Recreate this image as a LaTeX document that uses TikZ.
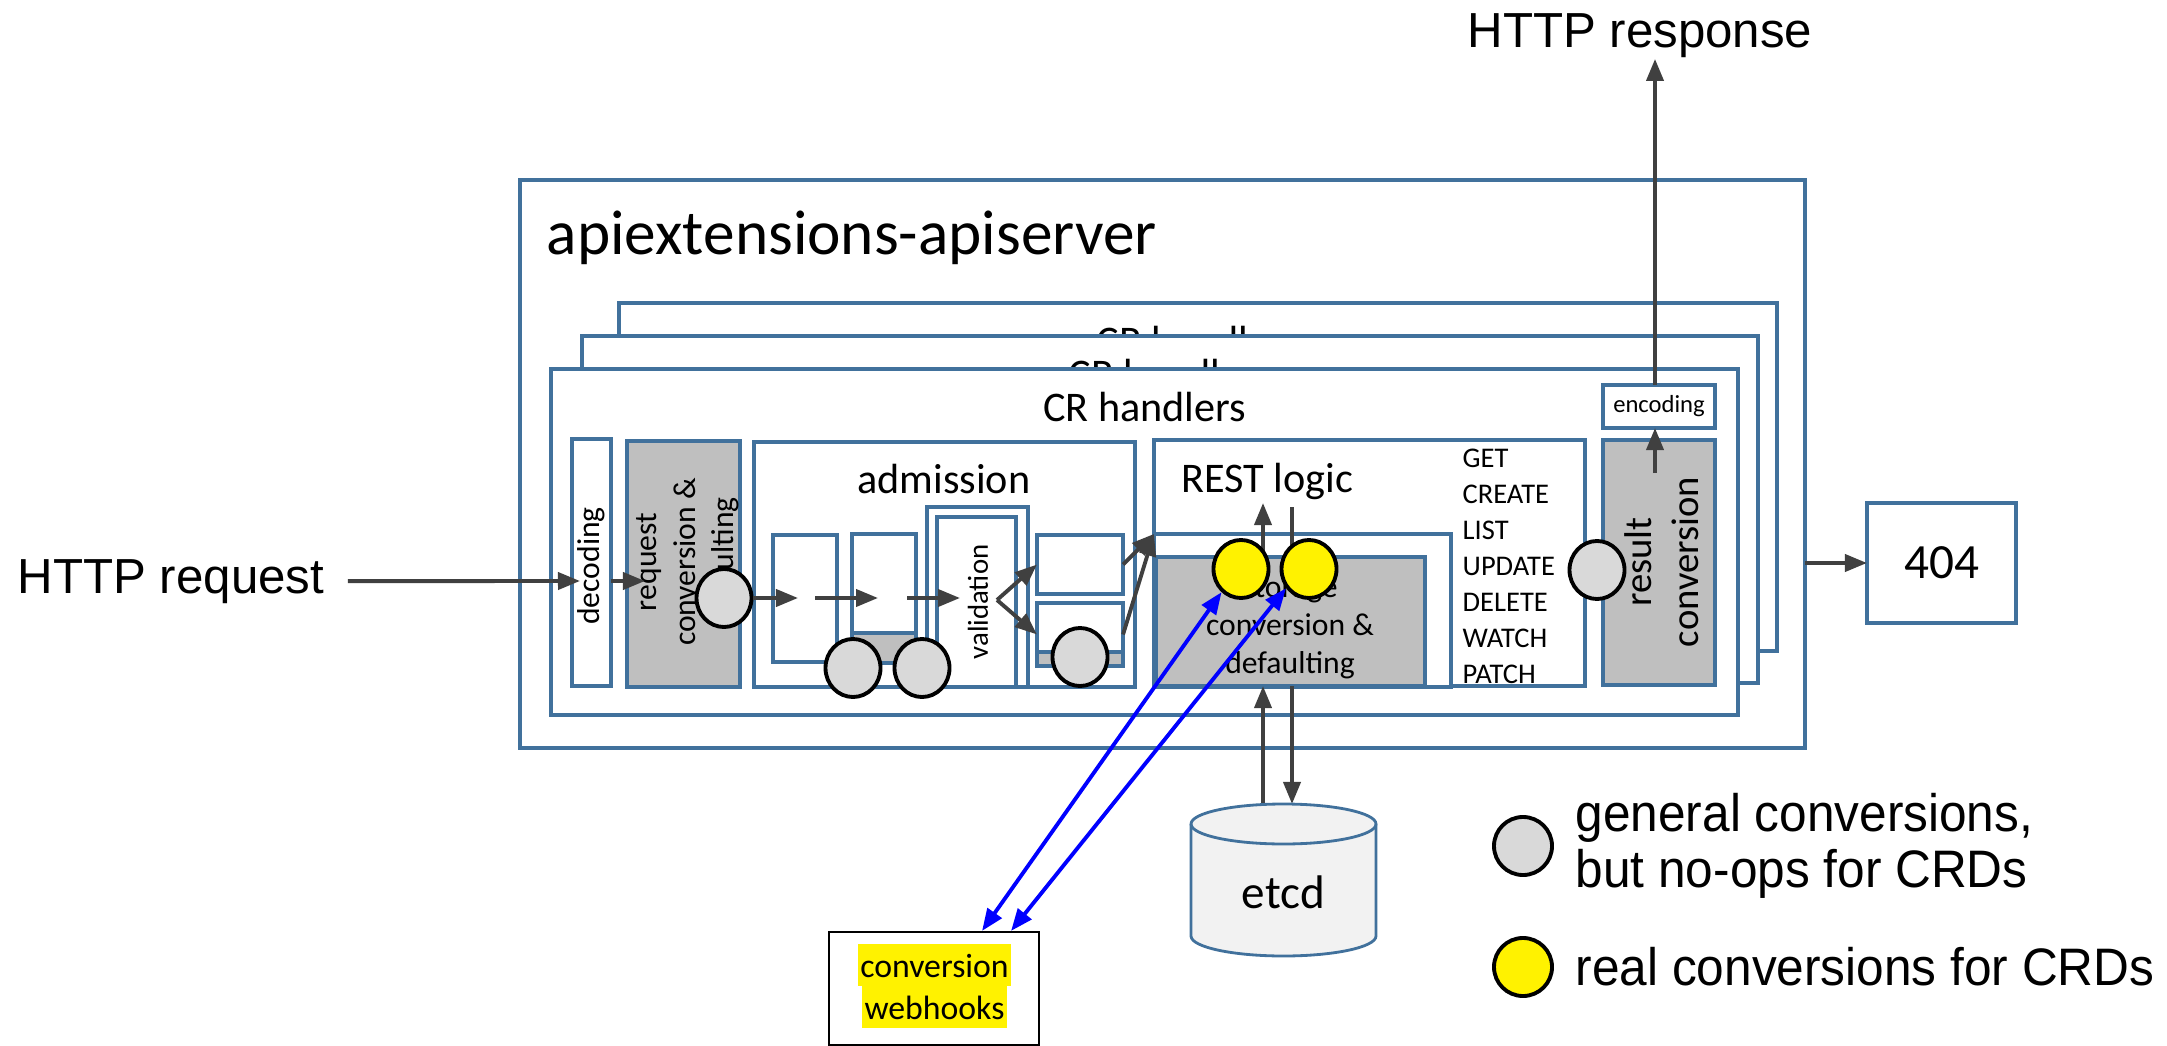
\documentclass[tikz,border=0pt]{standalone}
\usepackage{fontspec}
\setmainfont{Carlito}
\newfontfamily\arialfont{Liberation Sans}
\newfontfamily\legendfont[FakeStretch=0.94]{Liberation Sans}
\usetikzlibrary{positioning, calc, shapes.geometric, arrows.meta}
\definecolor{frameblue}{RGB}{65,113,156}
\definecolor{boxgray}{RGB}{191,191,191}
\definecolor{convgray}{RGB}{217,217,217}
\definecolor{arrowgray}{RGB}{64,64,64}
\definecolor{etcdfill}{RGB}{242,242,242}

\begin{document}
\begin{tikzpicture}[
        x=0.01cm, y=-0.01cm,
        blk/.style={rectangle, draw=frameblue, line width=1pt, fill=white, inner sep=0pt, outer sep=0pt},
        grayblk/.style={blk, fill=boxgray},
        frame/.style={blk, line width=1.1pt},
        band/.style={path picture={
            \fill[boxgray] (path picture bounding box.south west) rectangle ([yshift=#1]path picture bounding box.south east);
            \draw[frameblue, line width=1pt] ([yshift=#1]path picture bounding box.south west) -- ([yshift=#1]path picture bounding box.south east);}},
        cnv/.style={ellipse, draw=black, line width=1.1pt, fill=convgray, minimum width=0.55cm, minimum height=0.58cm, inner sep=0pt},
        realcnv/.style={cnv, fill=yellow},
        arr/.style={-{Triangle[length=0.22cm, width=0.17cm]}, line width=1.1pt, draw=arrowgray},
        plainln/.style={line width=1.1pt, draw=arrowgray},
        bluearr/.style={{Triangle[length=0.22cm, width=0.17cm]}-{Triangle[length=0.22cm, width=0.17cm]}, line width=1.1pt, draw=blue},
        vlbl/.style={rotate=90, align=center, inner sep=0pt},
        crtext/.style={font=\fontsize{12}{14}\selectfont, inner sep=0pt},
        meth/.style={font=\fontsize{8.1}{9.7}\selectfont, inner sep=0pt, anchor=base west},
        http/.style={font=\arialfont\fontsize{14}{16.8}\selectfont, inner sep=0pt},
        hilite/.style={fill=yellow, inner xsep=0.7pt, inner ysep=0pt, minimum height=0.42cm, text height=8pt, text depth=1pt, font=\fontsize{9.6}{11.5}\selectfont},
        lgtext/.style={font=\legendfont\fontsize{15}{15.9}\selectfont, align=left, inner sep=0pt},
    ]
    \useasboundingbox (0,0) rectangle (2167,1046);

    % ===== apiextensions-apiserver =====
    \node[frame, minimum width=12.85cm, minimum height=5.68cm] (APISRV) at (1162.5,464) {};
    \node[font=\fontsize{18}{21.6}\selectfont, inner sep=0pt, anchor=base west] (TITLE) at (546,255) {apiextensions-apiserver};

    % ===== stacked CR handlers =====
    \foreach \f/\x/\y/\w/\h in {3/1198/477/11.58/3.48, 2/1170/509.5/11.76/3.47, 1/1144.5/542/11.87/3.46} {
        \node[frame, minimum width=\w cm, minimum height=\h cm] (CRH\f) at (\x,\y) {};
        \node[crtext, anchor=base] (CRH\f-t) at ([yshift=-0.53cm]CRH\f.north) {CR handlers};
    }

    % ===== request side =====
    \node[blk, minimum width=0.39cm, minimum height=2.47cm] (DEC) at (591.5,562.5) {};
    \node[vlbl, font=\fontsize{9}{11}\selectfont] (DEC-t) at (591.5,566) {decoding};
    \node[grayblk, minimum width=1.13cm, minimum height=2.46cm] (REQC) at (683.5,564) {};
    \node[vlbl, font=\fontsize{9}{11}\selectfont] (REQC-t) at (688,562) {request\\conversion \&\\defaulting};

    % ===== admission =====
    \node[blk, minimum width=3.81cm, minimum height=2.45cm] (ADM) at (944.5,564.5) {};
    \node[crtext, anchor=base] (ADM-t) at (944,493) {admission};
    \node[blk, minimum width=0.64cm, minimum height=1.27cm] (S1) at (805,598.5) {};
    \node[blk, band=0.30cm, minimum width=0.64cm, minimum height=1.29cm] (S2) at (884,598.5) {};
    \node[blk, minimum width=1.01cm, minimum height=1.80cm] (VALO) at (977.5,597) {};
    \node[blk, minimum width=0.79cm, minimum height=1.70cm] (VALI) at (976.5,602) {};
    \node[vlbl, font=\fontsize{8.2}{10}\selectfont] (VAL-t) at (978,602) {validation};
    \node[blk, minimum width=0.86cm, minimum height=0.59cm] (BA) at (1080,564.5) {};
    \node[blk, band=0.14cm, minimum width=0.86cm, minimum height=0.63cm] (BB) at (1080,634.5) {};

    % ===== REST logic =====
    \node[blk, minimum width=4.31cm, minimum height=2.46cm] (REST) at (1369.5,563) {};
    \node[crtext, anchor=base west] (REST-t) at (1181,492) {REST logic};
    \node[blk, minimum width=2.97cm, minimum height=1.53cm] (STC) at (1302.5,610.5) {};
    \node[grayblk, minimum width=2.69cm, minimum height=1.29cm] (STG) at (1290.5,621.5) {};
    \node[align=center, inner sep=0pt, font=\fontsize{9}{10.8}\selectfont] (STG-t) at (1290,628) {storage\\conversion \&\\defaulting};
    \foreach \m [count=\i] in {GET, CREATE, LIST, UPDATE, DELETE, WATCH, PATCH}
        \node[meth] (M\i) at (1462, 431+36*\i) {\m};

    % ===== result side =====
    \node[grayblk, minimum width=1.12cm, minimum height=2.45cm] (RES) at (1659,562.5) {};
    \node[vlbl, font=\fontsize{11}{13.4}\selectfont] (RES-t) at (1662,562) {result\\conversion};
    \node[blk, minimum width=1.12cm, minimum height=0.43cm, font=\fontsize{7}{8.4}\selectfont] (ENC) at (1659,406.5) {encoding};
    \node[http, anchor=base] (HRESP) at (1640,48) {HTTP response};
    \node[blk, minimum width=1.49cm, minimum height=1.20cm, font=\fontsize{14}{16.8}\selectfont] (N404) at (1941.5,563) {404};

    % ===== HTTP request =====
    \node[http, anchor=base west] (HREQ) at (17,593) {HTTP request};
    \coordinate (DECIN) at (580,581);
    \coordinate (REQIN) at (645,581);

    % ===== gray connectors =====
    \draw[arr] ([xshift=0.23cm]HREQ.east) -- (DECIN);
    \draw[arr] (DEC.east |- DECIN) -- (REQIN);
    \coordinate (A1E) at (798,598);
    \coordinate (A2S) at (815,598);
    \coordinate (A2E) at (878,598);
    \coordinate (A3S) at (907,598);
    \coordinate (A3E) at (960,598);
    \coordinate (VOUT) at (997,600);
    \draw[arr] (A2S) -- (A2E);
    \draw[arr] (A3S) -- (A3E);
    \draw[arr] (VOUT) -- (BA.west);
    \draw[arr] (VOUT) -- (BB.west);
    \draw[arr] (BA.east) -- (STC.north west);
    \draw[arr] (BB.east) -- (STC.north west);

    \coordinate (RUP) at (1263,503);
    \coordinate (RDN) at (1292,507);
    \coordinate (ETCDTOP) at (1283.5,804);
    \draw[arr] (STG.north -| RUP) -- (RUP);
    \draw[plainln] (RDN) -- (STG.north -| RDN);
    \draw[arr] (ETCDTOP -| RUP) -- (STG.south -| RUP);
    \draw[arr] (STG.south -| RDN) -- (ETCDTOP -| RDN);

    \coordinate (RESOUT) at (1655,473);
    \draw[arr] (RESOUT) -- (ENC.south -| RESOUT);
    \draw[arr] (ENC.north -| RESOUT) -- (HRESP.south -| RESOUT);
    \draw[arr] (APISRV.east |- N404.west) -- (N404.west);

    % ===== etcd =====
    \draw[draw=frameblue, line width=0.8pt, fill=etcdfill] (1191,824) -- (1191,936)
        arc[start angle=180, end angle=0, x radius=92.5, y radius=20] -- (1376,824)
        arc[start angle=0, end angle=-180, x radius=92.5, y radius=20] -- cycle;
    \draw[draw=frameblue, line width=0.8pt] (1191,824) arc[start angle=180, end angle=0, x radius=92.5, y radius=20];
    \node[inner sep=0pt, font=\fontsize{13.4}{16}\selectfont] (ETCD) at (1283.5,892) {etcd};

    % ===== conversion webhooks =====
    \node[rectangle, draw=black, line width=0.6pt, fill=white, minimum width=2.10cm, minimum height=1.13cm] (WH) at (934,988.5) {};
    \node[hilite] (WH1) at (934.5,965) {conversion};
    \node[hilite] (WH2) at (934.5,1007) {webhooks};

    % ===== conversion points =====
    \node[cnv] (CREQ) at (724,598) {};
    \draw[arr] (CREQ.east) -- (A1E);
    \node[cnv] (CA1) at (853,668) {};
    \node[cnv] (CA2) at (922,668) {};
    \node[cnv] (CA3) at (1080,657) {};
    \node[cnv] (CRES) at (1597,570) {};
    \node[realcnv] (Y1) at (1241,569) {};
    \node[realcnv] (Y2) at (1309,569) {};

    \draw[bluearr] ([xshift=0.48cm]WH.north) -- (Y1.230);
    \draw[bluearr] ([xshift=0.77cm]WH.north) -- (Y2.220);

    % ===== legend =====
    \node[cnv, minimum width=0.58cm, minimum height=0.58cm] (LG1) at (1523,846) {};
    \node[realcnv, minimum width=0.58cm, minimum height=0.58cm] (LG2) at (1523,967) {};
    \node[lgtext, right=0.21cm of LG1] (LGT1) {general conversions,\\but no-ops for CRDs};
    \node[lgtext, right=0.21cm of LG2] (LGT2) {real conversions for CRDs};

\end{tikzpicture}
\end{document}
